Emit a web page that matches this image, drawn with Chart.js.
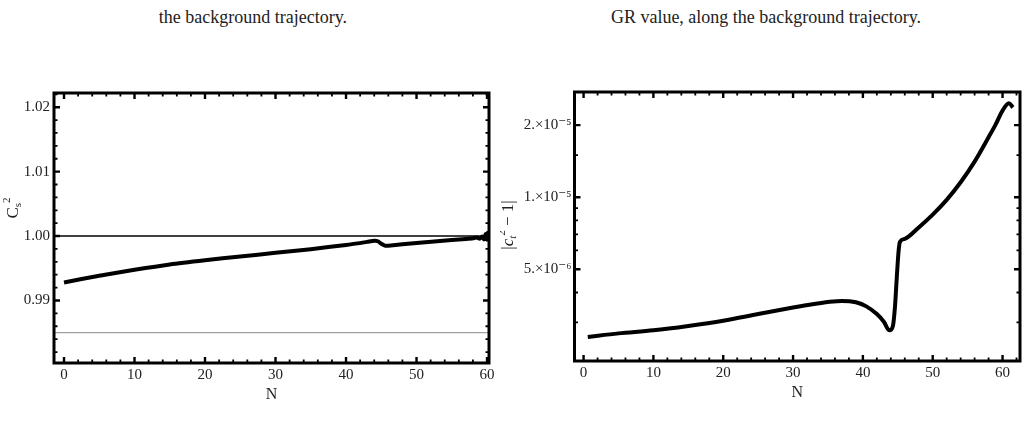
<!DOCTYPE html>
<html>
<head>
<meta charset="utf-8">
<script src="https://cdn.jsdelivr.net/npm/chart.js@4"></script>
<style>
  body { margin: 0; background: #fff; }
  #page { position: relative; width: 1028px; height: 428px; overflow: hidden; font-family: "Liberation Serif", serif; color: #222; }
  .cap { position: absolute; top: 6px; font-size: 18px; line-height: 22px; white-space: nowrap; transform: translateX(-50%); }
  canvas { position: absolute; }
</style>
</head>
<body>
<div id="page">
  <div class="cap" style="left:253px">the background trajectory.</div>
  <div class="cap" style="left:766px">GR value, along the background trajectory.</div>
  <canvas id="leftChart" width="500" height="320" style="left:0;top:80px"></canvas>
  <canvas id="rightChart" width="528" height="320" style="left:500px;top:80px"></canvas>
</div>
<script>
// Shared x ticks
const xTicks = [0, 10, 20, 30, 40, 50, 60]

// Left panel: c_s^2 along N
const csN      = [0, 5, 10, 15, 20, 25, 30, 35, 40, 43, 44, 44.5, 45, 45.5, 46, 50, 55, 57, 58, 58.5, 59, 59.3, 59.6, 59.8, 60, 60.1, 60.2]
const csValues = [0.99280, 0.99385, 0.99477, 0.99560, 0.99625, 0.99683, 0.99740, 0.99797, 0.99862, 0.99910, 0.99928, 0.99920, 0.99880, 0.99852, 0.99850, 0.99893, 0.99940, 0.99955, 0.99965, 0.99978, 0.99960, 0.99992, 0.99950, 1.00030, 0.99945, 1.00050, 0.99970]
const leftYTicks = [0.99, 1.00, 1.01, 1.02]
const leftXRange = [-1.42, 60.28]
const leftYRange = [0.9803, 1.0222]
const refLineValue = 1.00
const lowLineValue = 0.985

// Right panel: |c_t^2 - 1| along N
const ctN      = [0.6, 5, 10, 15, 20, 25, 30, 33, 35, 37, 39, 40.5, 42, 43, 43.8, 44.3, 44.6, 44.85, 45.1, 45.3, 46, 48, 50, 52, 54, 56, 58, 59, 60, 60.9, 61.5]
const ctValues = [2.61e-6, 2.70e-6, 2.78e-6, 2.90e-6, 3.05e-6, 3.25e-6, 3.46e-6, 3.58e-6, 3.65e-6, 3.69e-6, 3.64e-6, 3.50e-6, 3.25e-6, 3.02e-6, 2.78e-6, 2.90e-6, 3.50e-6, 4.60e-6, 5.90e-6, 6.50e-6, 6.70e-6, 7.48e-6, 8.46e-6, 9.75e-6, 1.155e-5, 1.408e-5, 1.78e-5, 2.01e-5, 2.30e-5, 2.47e-5, 2.37e-5]
const rightYTicks = [5e-6, 1e-5, 2e-5]
const rightYLabels = ['5.×10⁻⁶', '1.×10⁻⁵', '2.×10⁻⁵']
const rightYMinor = [3e-6, 4e-6, 6e-6, 7e-6, 8e-6, 9e-6, 1.5e-5]
const rightXRange = [-1.3, 62.5]
const rightYRange = [2.07e-6, 2.75e-5]

const serif = '"Liberation Serif", "DejaVu Serif", serif'
const tickFont = { family: serif, size: 15 }

// minor ticks every 2 on x
function minorSteps(from, to, step, skip) {
    var out = []
    for (var v = from; v <= to + 1e-9; v += step) {
        var r = Math.round(v / step) * step
        if (Math.abs(r / skip - Math.round(r / skip)) > 1e-6) out.push(r)
    }
    return out
}

// write text made of pieces (sub/superscripts), optionally rotated
function drawParts(ctx, parts, cx, cy, rot) {
    ctx.save()
    ctx.translate(cx, cy)
    ctx.rotate(rot)
    var total = 0
    parts.forEach(p => { ctx.font = p.font; total += ctx.measureText(p.t).width })
    var x = -total / 2
    ctx.fillStyle = '#222'
    ctx.textBaseline = 'alphabetic'
    parts.forEach(p => {
        ctx.font = p.font
        ctx.fillText(p.t, x, 5 + (p.dy || 0))
        x += ctx.measureText(p.t).width
    })
    ctx.restore()
}

// Mathematica style frame with inward ticks on all sides
const frameTicks = {
    id: 'frameTicks',
    afterDraw(chart, args, opts) {
        const ctx = chart.ctx
        const a = chart.chartArea
        const xs = chart.scales.x, ys = chart.scales.y
        ctx.save()
        ctx.strokeStyle = '#000'
        const tickX = (v, len, w) => {
            const p = xs.getPixelForValue(v)
            if (p < a.left || p > a.right) return
            ctx.lineWidth = w
            ctx.beginPath()
            ctx.moveTo(p, a.bottom); ctx.lineTo(p, a.bottom - len)
            ctx.moveTo(p, a.top); ctx.lineTo(p, a.top + len)
            ctx.stroke()
        }
        const tickY = (v, len, w) => {
            const p = ys.getPixelForValue(v)
            if (p < a.top || p > a.bottom) return
            ctx.lineWidth = w
            ctx.beginPath()
            ctx.moveTo(a.left, p); ctx.lineTo(a.left + len, p)
            ctx.moveTo(a.right, p); ctx.lineTo(a.right - len, p)
            ctx.stroke()
        }
        opts.xMajor.forEach(v => tickX(v, 6, 2.4))
        opts.xMinor.forEach(v => tickX(v, 3.5, 1.8))
        opts.yMajor.forEach(v => tickY(v, 6, 2.4))
        opts.yMinor.forEach(v => tickY(v, 3.5, 1.8))
        ctx.lineWidth = 3
        ctx.strokeRect(a.left, a.top, a.right - a.left, a.bottom - a.top)
        ctx.restore()

        // axis titles
        drawParts(ctx, [{ t: 'N', font: '16px ' + serif }], (a.left + a.right) / 2, a.bottom + 31, 0)
        drawParts(ctx, opts.yTitle, opts.yTitleX, opts.yTitleY, -Math.PI / 2)
    }
}

function points(xs, ys) {
    return xs.map((x, i) => ({ x: x, y: ys[i] }))
}

// Left chart
new Chart(document.getElementById('leftChart'), {
    type: 'line',
    data: {
        datasets: [
            {
                data: points(leftXRange, [lowLineValue, lowLineValue]),
                borderColor: '#a0a0a0', borderWidth: 1.2, pointRadius: 0
            },
            {
                data: points(leftXRange, [refLineValue, refLineValue]),
                borderColor: '#000', borderWidth: 1.6, pointRadius: 0
            },
            {
                data: points(csN, csValues),
                borderColor: '#000', borderWidth: 4, pointRadius: 0, tension: 0.2
            }
        ]
    },
    options: {
        responsive: false,
        animation: false,
        layout: { padding: { left: 0, top: 13, right: 11, bottom: 0 } },
        plugins: {
            legend: { display: false },
            tooltip: { enabled: false },
            frameTicks: {
                xMajor: xTicks, xMinor: minorSteps(-2, 62, 2, 10),
                yMajor: leftYTicks, yMinor: minorSteps(0.980, 1.022, 0.002, 0.01),
                yTitle: [
                    { t: 'C', font: '17px ' + serif },
                    { t: 's', font: '11px ' + serif, dy: 3 },
                    { t: '2', font: '11px ' + serif, dy: -8 }
                ],
                yTitleX: 13, yTitleY: 128
            }
        },
        scales: {
            x: {
                type: 'linear', min: leftXRange[0], max: leftXRange[1],
                grid: { display: false, drawTicks: false }, border: { display: false },
                ticks: { font: tickFont, color: '#222', padding: 3, maxRotation: 0, autoSkip: false },
                afterBuildTicks: s => { s.ticks = xTicks.map(v => ({ value: v })) },
                afterFit: s => { s.height = 37 }
            },
            y: {
                type: 'linear', min: leftYRange[0], max: leftYRange[1],
                grid: { display: false, drawTicks: false }, border: { display: false },
                ticks: { font: tickFont, color: '#222', padding: 4, callback: v => v.toFixed(2) },
                afterBuildTicks: s => { s.ticks = leftYTicks.map(v => ({ value: v })) },
                afterFit: s => { s.width = 54 }
            }
        }
    },
    plugins: [frameTicks]
})

// Right chart
new Chart(document.getElementById('rightChart'), {
    type: 'line',
    data: {
        datasets: [{
            data: points(ctN, ctValues),
            borderColor: '#000', borderWidth: 4, pointRadius: 0,
            cubicInterpolationMode: 'monotone'
        }]
    },
    options: {
        responsive: false,
        animation: false,
        layout: { padding: { left: 0, top: 7, right: 8, bottom: 0 } },
        plugins: {
            legend: { display: false },
            tooltip: { enabled: false },
            frameTicks: {
                xMajor: xTicks, xMinor: minorSteps(-2, 62, 2, 10),
                yMajor: rightYTicks, yMinor: rightYMinor,
                yTitle: [
                    { t: '|', font: '17px ' + serif },
                    { t: 'c', font: 'italic 17px ' + serif },
                    { t: 't', font: 'italic 11px ' + serif, dy: 3 },
                    { t: '2', font: '11px ' + serif, dy: -8 },
                    { t: ' − 1|', font: '17px ' + serif }
                ],
                yTitleX: 8, yTitleY: 145
            }
        },
        scales: {
            x: {
                type: 'linear', min: rightXRange[0], max: rightXRange[1],
                grid: { display: false, drawTicks: false }, border: { display: false },
                ticks: { font: tickFont, color: '#222', padding: 3, maxRotation: 0, autoSkip: false },
                afterBuildTicks: s => { s.ticks = xTicks.map(v => ({ value: v })) },
                afterFit: s => { s.height = 39 }
            },
            y: {
                type: 'logarithmic', min: rightYRange[0], max: rightYRange[1],
                grid: { display: false, drawTicks: false }, border: { display: false },
                ticks: {
                    font: tickFont, color: '#222', padding: 3, autoSkip: false,
                    callback: (v) => {
                        var i = rightYTicks.findIndex(t => Math.abs(t - v) / t < 1e-6)
                        return i >= 0 ? rightYLabels[i] : ''
                    }
                },
                afterBuildTicks: s => { s.ticks = rightYTicks.map(v => ({ value: v })) },
                afterFit: s => { s.width = 74.5 }
            }
        }
    },
    plugins: [frameTicks]
})
</script>
</body>
</html>
